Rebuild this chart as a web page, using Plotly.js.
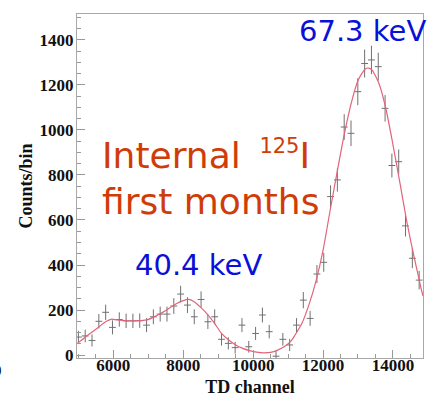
<!DOCTYPE html>
<html>
<head>
<meta charset="utf-8">
<script src="https://cdn.plot.ly/plotly-3.0.1.min.js"></script>
<style>
  html, body { margin: 0; padding: 0; background: #fff; }
  #chart { width: 436px; height: 410px; }
</style>
</head>
<body>
<div id="chart"></div>
<script>
// TD channel histogram: binning
const binStart = 5000;
const binWidth = 195;

// Counts per bin
const counts = [
  80, 85, 65, 150, 190, 123, 158, 152, 152, 153,
  133, 170, 182, 182, 218, 271, 222, 170, 247, 148,
  170, 70, 52, 33, 133, 37, 96, 178, 104, -5,
  70, 45, 133, 244, 163, 360, 412, 704, 778, 1013,
  985, 1170, 1295, 1311, 1281, 1096, 842, 859, 574, 430,
  333
];

// Uncertainty on each bin
const countErrors = [
  28, 28, 27, 32, 34, 31, 32, 32, 32, 32,
  31, 33, 33, 33, 35, 37, 35, 33, 36, 32,
  33, 28, 27, 26, 31, 26, 29, 33, 30, 25,
  28, 27, 31, 36, 33, 40, 42, 50, 52, 57,
  57, 60, 62, 63, 62, 59, 53, 54, 47, 44,
  41
];

// Fitted spectrum (two lines plus background)
const fitChannel = [
  4960, 5200, 5500, 5800, 5950, 6100, 6400, 6700, 6950, 7200,
  7500, 7800, 8000, 8150, 8300, 8500, 8700, 8900, 9100, 9300,
  9500, 9700, 9900, 10100, 10300, 10500, 10700, 10900, 11100, 11200,
  11400, 11600, 11800, 12000, 12200, 12400, 12600, 12800, 13000, 13200,
  13300, 13400, 13600, 13800, 14000, 14200, 14400, 14600, 14800, 14860
];
const fitCounts = [
  50, 80, 115, 150, 160, 156, 152, 152, 156, 172,
  198, 228, 242, 247, 238, 212, 180, 140, 95, 67,
  45, 30, 20, 13, 10, 12, 22, 38, 65, 89,
  142, 225, 330, 465, 640, 810, 975, 1115, 1220, 1270,
  1275, 1267, 1206, 1093, 935, 765, 590, 440, 300, 262
];

const yTicks = [0, 200, 400, 600, 800, 1000, 1200, 1400];
const xTicks = [6000, 8000, 10000, 12000, 14000];

const binCenters = counts.map((_, i) => binStart + binWidth * i);

const data = [
  {
    type: 'scatter',
    mode: 'markers',
    x: binCenters,
    y: counts,
    marker: { size: 2, color: 'rgba(0,0,0,0)' },
    error_y: { type: 'data', array: countErrors, visible: true,
               color: '#707070', thickness: 1, width: 0 },
    error_x: { type: 'constant', value: binWidth / 2, visible: true,
               color: '#707070', thickness: 1, width: 0 },
    hoverinfo: 'x+y'
  },
  {
    type: 'scatter',
    mode: 'lines',
    x: fitChannel,
    y: fitCounts,
    line: { color: '#e2647a', width: 1.2, shape: 'spline', smoothing: 0.6 },
    hoverinfo: 'skip'
  }
];

const tickFont = { family: 'Liberation Serif, Times New Roman, serif', size: 17, color: '#111', weight: 700 };
const titleFont = { family: 'Liberation Serif, Times New Roman, serif', size: 18, color: '#111', weight: 700 };
const noteFont = 'DejaVu Sans, sans-serif';

const layout = {
  width: 436,
  height: 410,
  margin: { l: 77, r: 13, t: 14, b: 52 },
  paper_bgcolor: '#fff',
  plot_bgcolor: '#fff',
  showlegend: false,
  xaxis: {
    range: [4960, 14860],
    tickvals: xTicks,
    ticktext: xTicks.map(String),
    ticks: 'inside',
    ticklen: 8,
    tickcolor: '#999',
    minor: { dtick: 500, tick0: 0, ticks: 'inside', ticklen: 4, tickcolor: '#999' },
    showline: true,
    linecolor: '#a8a8a8',
    mirror: true,
    showgrid: false,
    zeroline: false,
    tickfont: tickFont,
    ticklabelstandoff: -8,
    title: { text: 'TD channel', font: titleFont, standoff: 5 }
  },
  yaxis: {
    range: [-13, 1515],
    tickvals: yTicks,
    ticktext: yTicks.map(String),
    ticks: 'inside',
    ticklen: 8,
    tickcolor: '#999',
    minor: { dtick: 50, tick0: 0, ticks: 'inside', ticklen: 4, tickcolor: '#999' },
    showline: true,
    linecolor: '#a8a8a8',
    mirror: true,
    showgrid: false,
    zeroline: false,
    tickfont: tickFont,
    ticklabelstandoff: -1,
    title: { text: 'Counts/bin', font: titleFont, standoff: 2 }
  },
  annotations: [
    {
      xref: 'paper', yref: 'paper', x: 0.826, y: 0.951,
      text: '67.3 keV', showarrow: false,
      xanchor: 'center', yanchor: 'middle',
      font: { family: noteFont, size: 29, color: '#0a10d8' }
    },
    {
      xref: 'paper', yref: 'paper', x: 0.35, y: 0.27,
      text: '40.4 keV', showarrow: false,
      xanchor: 'center', yanchor: 'middle',
      font: { family: noteFont, size: 29, color: '#0a10d8' }
    },
    {
      xref: 'paper', yref: 'paper', x: 0.066, y: 0.59,
      text: 'Internal \u2009<sup><span style="font-size:21px">125</span></sup>I', showarrow: false,
      xanchor: 'left', yanchor: 'middle',
      font: { family: noteFont, size: 36, color: '#d03c08' }
    },
    {
      xref: 'paper', yref: 'paper', x: 0.066, y: 0.455,
      text: 'first months', showarrow: false,
      xanchor: 'left', yanchor: 'middle',
      font: { family: noteFont, size: 36, color: '#d03c08' }
    },
    {
      xref: 'paper', yref: 'paper', x: -0.211, y: -0.035,
      text: '0', showarrow: false,
      xanchor: 'right', yanchor: 'middle',
      font: tickFont
    }
  ]
};

Plotly.newPlot('chart', data, layout, { displayModeBar: false, staticPlot: true });
</script>
</body>
</html>
